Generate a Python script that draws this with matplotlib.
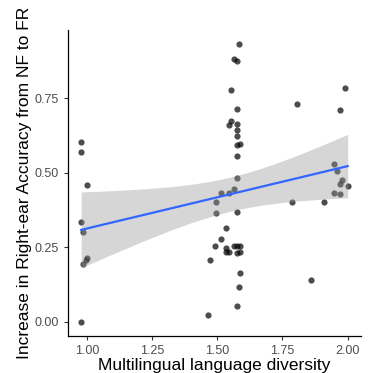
import numpy as np
import matplotlib.pyplot as plt

# multilingual language diversity vs. increase in right-ear accuracy
diversity = [0.978, 0.978, 0.999, 0.978, 0.986, 0.999, 0.995, 0.986, 0.978,
             1.585, 1.563, 1.574, 1.554, 1.574, 1.554, 1.543, 1.574, 1.574,
             1.574, 1.574, 1.586, 1.574, 1.574, 1.564, 1.545, 1.514,
             1.494, 1.494, 1.574, 1.533, 1.513, 1.492, 1.533, 1.565, 1.574,
             1.586, 1.543, 1.533, 1.574, 1.586, 1.473, 1.586, 1.585, 1.574,
             1.463,
             1.806, 1.787, 1.909, 1.859,
             1.990, 1.969, 1.949, 1.959, 1.980, 1.969, 2.000, 1.949, 1.970]
accuracy = [0.604, 0.569, 0.458, 0.335, 0.302, 0.213, 0.207, 0.193, -0.002,
            0.932, 0.882, 0.874, 0.777, 0.713, 0.673, 0.661, 0.662, 0.643,
            0.622, 0.591, 0.595, 0.557, 0.482, 0.444, 0.430, 0.430,
            0.400, 0.363, 0.369, 0.315, 0.277, 0.255, 0.246, 0.255, 0.252,
            0.252, 0.232, 0.235, 0.230, 0.235, 0.205, 0.163, 0.117, 0.052,
            0.021,
            0.730, 0.402, 0.402, 0.138,
            0.784, 0.711, 0.528, 0.506, 0.475, 0.462, 0.456, 0.432, 0.429]

x_ticks = [1.00, 1.25, 1.50, 1.75, 2.00]
y_ticks = [0.00, 0.25, 0.50, 0.75]

x = np.array(diversity)
y = np.array(accuracy)

# linear fit with 95% confidence band (like geom_smooth(method="lm"))
n = len(x)
slope, intercept = np.polyfit(x, y, 1)
xs = np.linspace(x.min(), x.max(), 80)
fit = intercept + slope * xs
resid = y - (intercept + slope * x)
s_err = np.sqrt(np.sum(resid ** 2) / (n - 2))
t_val = 2.003
se = s_err * np.sqrt(1 / n + (xs - x.mean()) ** 2 / np.sum((x - x.mean()) ** 2))

plt.rcParams['font.family'] = ['Liberation Sans', 'DejaVu Sans']

fig = plt.figure(figsize=(3.71, 3.73), dpi=100)
ax = fig.add_axes([0.183, 0.099, 0.79, 0.821])

ax.scatter(x, y, s=20, color='black', alpha=0.7, linewidths=0, zorder=2)
ax.fill_between(xs, fit - t_val * se, fit + t_val * se,
                color='#999999', alpha=0.4, linewidth=0, zorder=3)
ax.plot(xs, fit, color='#3366FF', linewidth=1.6, zorder=4)

xr = x.max() - x.min()
yr = y.max() - y.min()
ax.set_xlim(x.min() - 0.05 * xr, x.max() + 0.05 * xr)
ax.set_ylim(y.min() - 0.05 * yr, y.max() + 0.05 * yr)

ax.set_xticks(x_ticks)
ax.set_xticklabels([f"{v:.2f}" for v in x_ticks])
ax.set_yticks(y_ticks)
ax.set_yticklabels([f"{v:.2f}" for v in y_ticks])
ax.tick_params(colors='#333333', labelcolor='#4D4D4D', labelsize=9,
               length=3, width=0.8)

for side in ['top', 'right']:
    ax.spines[side].set_visible(False)
for side in ['left', 'bottom']:
    ax.spines[side].set_linewidth(0.9)

ax.set_xlabel('Multilingual language diversity', fontsize=12.5, labelpad=1)
ax.set_ylabel('Increase in Right-ear Accuracy from NF to FR', fontsize=12.5,
              labelpad=2)

fig.savefig('out.png', dpi=100)
